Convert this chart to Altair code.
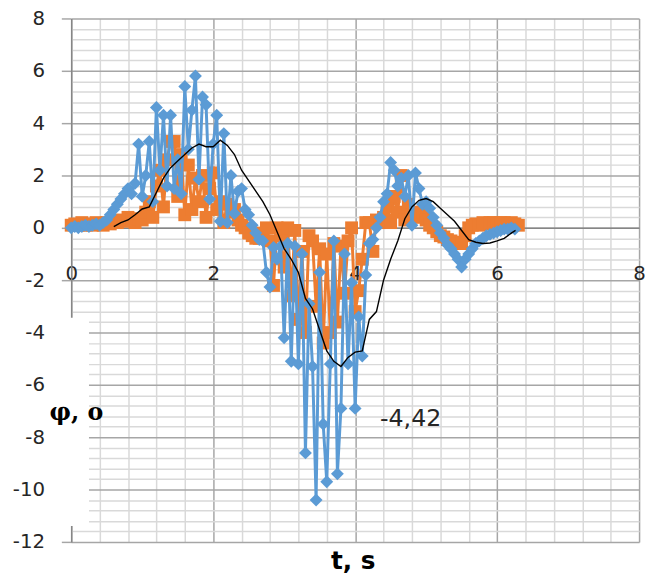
import altair as alt
import pandas as pd

# ---------------- data ----------------
DT = 0.05
orange = [0.1, 0.15, 0.1, 0.2, 0.1, 0.15, 0.1, 0.2, 0.15, 0.1,
          0.2, 0.15, 0.25, 0.2, 0.3, 0.25, 0.4, 0.3, 0.2, 0.35,
          0.3, 0.6, 1.0, 0.4, 1.6, 2.2, 0.8, 2.6, 3.3, 3.3,
          1.2, 2.8, 0.5, 2.4, 0.7, 1.9, 1.0, 2.0, 0.4, 1.5,
          2.1, 0.7, 1.0, 0.2, 0.9, 0.6, 0.7, 0.3, 0.1, 0.0,
          -0.2, -0.3, -0.4, -0.4, -0.2, 0.0, -0.5, -2.2, 0.0, -0.3,
          -1.5, 0.0, -2.6, -0.1, -3.5, -0.9, -4.0, -0.3, -0.5, -3.0,
          -0.8, -4.4, -1.0, -4.0, -0.6, -3.6, -0.7, -2.5, -0.5, 0.0,
          -3.2, -2.4, -1.2, 0.2, 0.2, -0.9, 0.3, 0.2, 0.4, 0.8,
          0.2, 1.2, 0.6, 2.0, 0.3, 0.9, 0.5, 0.6, 0.4, 0.6,
          0.3, 0.1, 0.0, -0.15, -0.3, -0.35, -0.45, -0.5, -0.55, -0.6,
          -0.6, -0.3, 0.0, 0.1, 0.15, 0.1, 0.2, 0.15, 0.2, 0.2,
          0.15, 0.2, 0.2, 0.15, 0.2, 0.15, 0.1]
blue = [0.0, 0.05, 0.0, 0.05, 0.1, 0.05, 0.1, 0.15, 0.1, 0.2,
        0.3, 0.5, 0.7, 0.9, 1.1, 1.3, 1.5, 1.3, 1.7, 3.2,
        1.2, 2.0, 3.3, 1.0, 4.6, 2.2, 4.3, 1.6, 4.3, 1.5,
        2.6, 1.3, 5.4, 3.0, 4.5, 5.8, 1.85, 5.0, 4.7, 1.1,
        3.2, 4.3, 0.25, 3.6, 0.2, 2.0, 0.55, 1.4, 1.5, 0.7,
        0.5, 0.1, -0.2, -0.45, -0.5, -1.7, -2.26, -0.75, -1.2, -0.7,
        -4.2, -0.6, -5.1, -0.7, -5.2, -1.0, -8.6, -2.9, -5.3, -10.4,
        -1.7, -7.5, -9.7, -5.2, -0.5, -9.4, -6.9, -1.0, -5.2, -2.1,
        -6.9, -3.4, -4.9, -1.8, -0.6, -0.45, 0.0, 0.4, 1.0, 1.3,
        2.5, 2.2, 1.6, 1.9, 1.2, 2.0, 0.1, 2.1, 1.5, 0.9,
        1.0, 0.75, 0.4, 0.1, -0.2, -0.4, -0.65, -0.8, -1.0, -1.2,
        -1.5, -1.2, -1.0, -0.8, -0.6, -0.5, -0.4, -0.3, -0.25, -0.2,
        -0.15, -0.1, -0.05, -0.05, 0.0, -0.05]
t_orange = [round(i * DT, 2) for i in range(len(orange))]
t_blue = [round(i * DT, 2) for i in range(len(blue))]

t_black = [0.6, 0.7, 0.8, 0.9, 1.0, 1.1, 1.2, 1.3, 1.4, 1.5,
           1.6, 1.7, 1.8, 1.9, 2.0, 2.1, 2.2, 2.3, 2.4, 2.5,
           2.6, 2.7, 2.8, 2.9, 3.0, 3.1, 3.2, 3.3, 3.4, 3.5,
           3.6, 3.7, 3.8, 3.9, 4.0, 4.1, 4.2, 4.3, 4.4, 4.5,
           4.6, 4.7, 4.8, 4.9, 5.0, 5.1, 5.2, 5.3, 5.4, 5.5,
           5.6, 5.7, 5.8, 5.9, 6.0, 6.1, 6.2, 6.26]
black = [0.05, 0.2, 0.3, 0.5, 0.72, 0.8, 1.35, 1.9, 2.3, 2.55,
         2.8, 3.05, 3.2, 3.1, 3.1, 3.35, 3.15, 2.8, 2.2, 1.8,
         1.4, 1.0, 0.5, -0.15, -0.8, -1.2, -1.7, -2.7, -3.1, -3.9,
         -4.7, -5.1, -5.3, -4.95, -4.75, -4.7, -3.5, -3.2, -2.0, -1.2,
         -0.5, 0.35, 0.8, 1.05, 1.12, 1.0, 0.75, 0.5, 0.25, -0.1,
         -0.45, -0.55, -0.6, -0.58, -0.5, -0.4, -0.2, -0.1]

x_grid = [round(i * 0.4, 1) for i in range(21)]
y_grid = [round(-12 + i * 0.4, 1) for i in range(51)]

annotation_t = [4.35]
annotation_v = [-7.3]
annotation_text = ["-4,42"]

# ---------------- chart ----------------
df_o = pd.DataFrame({"t": t_orange, "v": orange})
df_b = pd.DataFrame({"t": t_blue, "v": blue})
df_k = pd.DataFrame({"t": t_black, "v": black})
df_a = pd.DataFrame({"t": annotation_t, "v": annotation_v, "label": annotation_text})

MAJOR = "abs(datum.value/2 - round(datum.value/2)) < 0.01"
LABEL = f"({MAJOR}) ? ('' + round(datum.value)) : ''"
grid_color = {"condition": {"test": MAJOR, "value": "#a6a6a6"}, "value": "#d9d9d9"}

x_scale = alt.Scale(domain=[0, 8], nice=False, zero=False)
y_scale = alt.Scale(domain=[-12, 8], nice=False, zero=False)

x_axis = alt.Axis(
    values=x_grid, grid=True, gridColor=grid_color, gridWidth=1.5,
    ticks=False, domain=True, domainColor="#868686", domainWidth=1.5,
    labelExpr=LABEL, labelFont="DejaVu Sans", labelFontSize=20,
    labelColor="#262626", labelPadding=36, labelOverlap=False,
    labelFlush=False, labelBound=False, offset=-318,
    title="t, s", titleFont="DejaVu Sans", titleFontWeight="bold",
    titleFontSize=25, titleColor="#000000", titleY=345,
    titleBaseline="alphabetic", titleX=285, titleAlign="center",
)
y_axis = alt.Axis(
    values=y_grid, grid=True, gridColor=grid_color, gridWidth=1.5,
    ticks=True, tickSize=10, tickWidth=1.5,
    tickColor={"condition": {"test": MAJOR, "value": "#a6a6a6"}, "value": "rgba(0,0,0,0)"},
    domain=True, domainColor="#868686", domainWidth=1.5,
    labelExpr=LABEL, labelFont="DejaVu Sans", labelFontSize=20,
    labelColor="#262626", labelPadding=17, labelOverlap=False,
    labelFlush=False, labelBound=False, title=None,
)

X = alt.X("t:Q", scale=x_scale, axis=x_axis)
Y = alt.Y("v:Q", scale=y_scale, axis=y_axis)

ORANGE = "#ED7D31"
BLUE = "#5B9BD5"

o_line = alt.Chart(df_o).mark_line(color=ORANGE, strokeWidth=3).encode(x=X, y=Y, order="t:Q")
o_pts = alt.Chart(df_o).mark_point(shape="square", filled=True, color=ORANGE, size=170, opacity=1).encode(x=X, y=Y)
b_line = alt.Chart(df_b).mark_line(color=BLUE, strokeWidth=3).encode(x=X, y=Y, order="t:Q")
b_pts = alt.Chart(df_b).mark_point(shape="diamond", filled=True, color=BLUE, size=170, opacity=1).encode(x=X, y=Y)
k_line = alt.Chart(df_k).mark_line(color="#000000", strokeWidth=1.4).encode(x=X, y=Y, order="t:Q")

# white box behind the vertical axis title (as in the original)
box = alt.Chart(pd.DataFrame({"k": [0]})).mark_rect(color="white").encode(
    x=alt.value(-20), x2=alt.value(18), y=alt.value(303), y2=alt.value(514)
)
ytitle = alt.Chart(pd.DataFrame({"label": ["φ, o"]})).mark_text(
    font="DejaVu Serif", fontWeight="bold", fontSize=24, align="left",
    baseline="middle", color="#000000"
).encode(x=alt.value(-22), y=alt.value(400), text="label:N")

annot = alt.Chart(df_a).mark_text(
    font="DejaVu Sans", fontSize=24, align="left", baseline="middle", color="#262626"
).encode(x=X, y=Y, text="label:N")

chart = alt.layer(o_line, o_pts, b_line, b_pts, k_line, box, ytitle, annot).properties(
    width=575, height=530,
    autosize=alt.AutoSizeParams(type="none"),
    padding={"left": 64, "top": 7, "right": 6, "bottom": 36},
).configure_view(stroke=None)

chart.save("out.html", embed_options={"renderer": "svg", "actions": False})
